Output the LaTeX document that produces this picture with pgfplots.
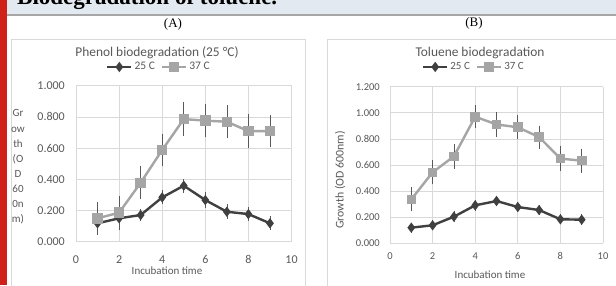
\documentclass[border=0pt]{standalone}
\usepackage{fontspec}
\setmainfont{Carlito}
\newfontfamily\serif{Liberation Serif}
\usepackage{pgfplots}
\usepackage{pgfplotstable}
\pgfplotsset{compat=1.18}
\definecolor{darkser}{HTML}{404040}
\definecolor{lightser}{HTML}{A5A5A5}
\definecolor{txt}{HTML}{595959}
\definecolor{gridc}{HTML}{D9D9D9}
\definecolor{band}{HTML}{E3E9F0}
\definecolor{bandline}{HTML}{A6A6A6}
\definecolor{redbar}{HTML}{D0201A}
\definecolor{boxc}{HTML}{D9D9D9}

\pgfplotstableread{
x y e
1 0.118 0.045
2 0.150 0.030
3 0.171 0.022
4 0.284 0.025
5 0.359 0.025
6 0.267 0.030
7 0.192 0.028
8 0.177 0.025
9 0.118 0.025
}\phenolLow
\pgfplotstableread{
x y e
1 0.150 0.085
2 0.186 0.090
3 0.378 0.088
4 0.588 0.085
5 0.786 0.088
6 0.776 0.088
7 0.769 0.085
8 0.709 0.090
9 0.709 0.085
}\phenolHigh
\pgfplotstableread{
x y e
1 0.120 0.015
2 0.138 0.015
3 0.204 0.018
4 0.291 0.018
5 0.324 0.018
6 0.278 0.015
7 0.255 0.015
8 0.184 0.015
9 0.181 0.018
}\tolLow
\pgfplotstableread{
x y e
1 0.337 0.070
2 0.544 0.070
3 0.666 0.070
4 0.970 0.065
5 0.911 0.070
6 0.889 0.070
7 0.814 0.065
8 0.649 0.070
9 0.633 0.070
}\tolHigh

\pgfplotsset{
  chartstyle/.style={
    scale only axis,
    axis line style={draw=none},
    tick style={draw=none},
    grid=major,
    grid style={gridc, line width=0.8pt},
    xmin=0, xmax=10, ymin=0,
    xtick={0,2,4,6,8,10},
    /pgf/number format/assume math mode=true,
    ticklabel style={text=txt},
    yticklabel style={/pgf/number format/fixed, /pgf/number format/fixed zerofill, /pgf/number format/precision=3},
    legend image code/.code={\draw[mark repeat=2, mark phase=2, ##1] plot coordinates {(0pt,0pt) (12pt,0pt) (24pt,0pt)};},
    legend style={draw=none, fill=none, text=txt, legend columns=2, anchor=center,
      /tikz/every even column/.append style={column sep=4pt}},
  },
  lowser/.style={darkser, line width=2.4pt, mark=diamond*, mark size=3.2pt, mark options={solid, darkser}},
  highser/.style={lightser, line width=2.4pt, mark=square*, mark size=#1, mark options={solid, lightser}},
  ebars/.style={error bars/.cd, y dir=both, y explicit,
    error bar style={txt, line width=0.7pt},
    error mark options={txt, line width=0.7pt, mark size=3pt}},
}

\begin{document}
\begin{tikzpicture}[x=1pt,y=1pt]
\path[use as bounding box] (0,0) rectangle (616,285);
\fill[white] (0,0) rectangle (616,285);
% header band
\fill[band] (0,270) rectangle (616,285);
\fill[bandline] (0,269) rectangle (616,271);
\node[anchor=base west, inner sep=0pt, font=\serif\bfseries\fontsize{23}{27}\selectfont] at (17,281) {Biodegradation of toluene.};
\fill[redbar] (0,0) rectangle (7,285);
% panel labels
\node[font=\serif\fontsize{13}{15}\selectfont] at (173,261) {(A)};
\node[font=\serif\fontsize{13}{15}\selectfont] at (474,262) {(B)};
% chart boxes
\draw[boxc, line width=0.8pt] (11,-5) -- (11,246) -- (305,246) -- (305,-5);
\draw[boxc, line width=0.8pt] (327,-5) -- (327,246) -- (625,246);

% ---- Chart A ----
\node[text=txt, font=\fontsize{13.4}{15}\selectfont] at (157,232) {Phenol biodegradation (25 \textdegree C)};
\node[text=txt, align=center, font=\fontsize{11}{15.1}\selectfont] at (18,118) {Gr\\ow\\th\\(O\\D\\60\\0n\\m)};
\node[text=txt, font=\fontsize{11}{13}\selectfont] at (167,14.5) {Incubation time};
\begin{axis}[chartstyle,
  at={(76pt,43.3pt)}, anchor=south west,
  width=215.5pt, height=156pt,
  ymax=1, ytick={0,0.2,0.4,0.6,0.8,1},
  ticklabel style={font=\fontsize{12}{14}\selectfont},
  yticklabel style={anchor=east, inner sep=0pt, xshift=-11pt},
  xticklabel style={anchor=north, inner sep=0pt, yshift=-13.5pt},
  legend style={at={(axis description cs:0.385,1.12)}, font=\fontsize{11.5}{13}\selectfont},
]
\addplot[lowser, ebars] table[x=x, y=y, y error=e] {\phenolLow};
\addlegendentry{25 C}
\addplot[highser=4pt, ebars] table[x=x, y=y, y error=e] {\phenolHigh};
\addlegendentry{37 C}
\end{axis}

% ---- Chart B ----
\node[text=txt, font=\fontsize{13.4}{15}\selectfont] at (480,232) {Toluene biodegradation};
\node[text=txt, rotate=90, font=\fontsize{11.8}{13}\selectfont] at (340,105) {Growth (OD 600nm)};
\node[text=txt, font=\fontsize{11}{13}\selectfont] at (490,10) {Incubation time};
\begin{axis}[chartstyle,
  at={(390pt,41.7pt)}, anchor=south west,
  width=213pt, height=156.6pt,
  ymax=1.2, ytick={0,0.2,0.4,0.6,0.8,1,1.2},
  ticklabel style={font=\fontsize{10.5}{12}\selectfont},
  yticklabel style={anchor=east, inner sep=0pt, xshift=-10pt},
  xticklabel style={anchor=north, inner sep=0pt, yshift=-9pt},
  legend style={at={(axis description cs:0.394,1.126)}, font=\fontsize{11}{12}\selectfont},
]
\addplot[lowser, ebars] table[x=x, y=y, y error=e] {\tolLow};
\addlegendentry{25 C}
\addplot[highser=3.6pt, ebars] table[x=x, y=y, y error=e] {\tolHigh};
\addlegendentry{37 C}
\end{axis}
\end{tikzpicture}
\end{document}
